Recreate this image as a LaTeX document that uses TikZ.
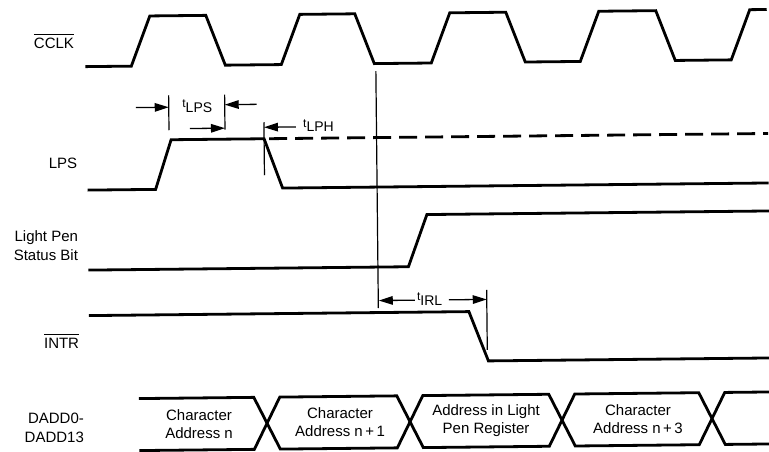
\documentclass[tikz,border=0pt]{standalone}
\usepackage{fontspec}
\setmainfont{Liberation Sans}
\usetikzlibrary{arrows.meta}
\newcommand\mybar[1]{\leavevmode\setbox0\hbox{#1}\rlap{\raisebox{13.5pt}{\rule{\wd0}{0.9pt}}}\box0}
\newcommand\tsub[1]{\raisebox{4.5pt}{\fontsize{12}{14}\selectfont t}#1}
\tikzset{
  sig/.style={line width=2.8pt, line join=miter},
  thinline/.style={line width=1.2pt},
  dim/.style={line width=1.3pt, -{Triangle[length=14pt,width=8.5pt]}},
  lbl/.style={font=\fontsize{15}{18.5}\selectfont, inner sep=0pt, align=right},
  bustext/.style={font=\fontsize{15}{18}\selectfont, inner sep=0pt, align=center},
  tlbl/.style={font=\fontsize{14}{16}\selectfont, inner sep=0pt}
}
\begin{document}
\begin{tikzpicture}[x=1pt,y=-1pt]
\useasboundingbox (0,0) rectangle (769,452);
\begin{scope}[rotate around={0.6:(384,226)}]
% signal labels
\node[lbl, anchor=base east] (lcclk) at (76,45) {\mybar{CCLK}};
\node[lbl, anchor=base east] (llps) at (78,165) {LPS};
\node[lbl, anchor=east] (llpsb) at (78,242.4) {Light Pen\\Status Bit};
\node[lbl, anchor=base east] (lintr) at (78,345) {\mybar{INTR}};
\node[lbl, anchor=east] (ldadd) at (82,424.7) {DADD0-\\DADD13};

% CCLK
\draw[sig] (87,63.5) -- (133,63.5) -- (152,13.5) -- (208,13.5) -- (227,63.5)
  -- (283,63.5) -- (302,13.5) -- (357,13.5) -- (376,63.5)
  -- (433,63.5) -- (452,13.5) -- (508,13.5) -- (527,63.5)
  -- (582,63.5) -- (601,13.5) -- (658,13.5) -- (677,63.5)
  -- (733,63.5) -- (752,13.5) -- (769,13.5);

% reference vertical line
\coordinate (vtop) at (377.5,71);
\coordinate (vbot) at (377.5,308);
\draw[thinline] (vtop) -- (vbot);

% LPS
\draw[sig] (88,187) -- (156,187) -- (172,137.5) -- (265,137.5) -- (283,187) -- (769,187);
\draw[sig, dash pattern=on 18pt off 8pt] (270,137.5) -- (769,137.5);

% tLPS
\coordinate (a1t) at (170,93); \coordinate (a1b) at (170,128);
\coordinate (a2t) at (226,93); \coordinate (a2b) at (226,128);
\draw[thinline] (a1t) -- (a1b);
\draw[thinline] (a2t) -- (a2b);
\coordinate (p1) at (137,105); \coordinate (q1) at (170,105);
\coordinate (p2) at (258,103); \coordinate (q2) at (226,103);
\coordinate (p3) at (191,126.5); \coordinate (q3) at (226,126.5);
\draw[dim] (p1) -- (q1);
\draw[dim] (p2) -- (q2);
\draw[dim] (p3) -- (q3);
\node[tlbl, anchor=base] (tlps) at (198.5,110.5) {\tsub{LPS}};

% tLPH
\coordinate (b1t) at (265,121); \coordinate (b1b) at (265,174);
\draw[thinline] (b1t) -- (b1b);
\coordinate (p4) at (297,126); \coordinate (q4) at (265,126);
\draw[dim] (p4) -- (q4);
\node[tlbl, anchor=base west] (tlph) at (304,131) {\tsub{LPH}};

% Light Pen Status Bit
\draw[sig] (88,267) -- (408,267) -- (427,215) -- (769,215);

% INTR
\draw[sig] (88,312.5) -- (468,312.5) -- (487,362) -- (769,362);

% tIRL
\coordinate (c1t) at (486,291); \coordinate (c1b) at (486,351);
\draw[thinline] (c1t) -- (c1b);
\coordinate (p5) at (414,300.5); \coordinate (q5) at (378,300.5);
\coordinate (p6) at (448,300.5); \coordinate (q6) at (486,300.5);
\node[tlbl, anchor=base west] (tirl) at (416,305.5) {\tsub{IRL}};
\draw[dim] (p5) -- (q5);
\draw[dim] (p6) -- (q6);

% DADD bus
\draw[sig] (137,396) -- (252,396) -- (278,448) -- (395,448) -- (421,396) -- (547,396)
  -- (573,448) -- (697,448) -- (723,396) -- (769,396);
\draw[sig] (137,448) -- (252,448) -- (278,396) -- (395,396) -- (421,448) -- (547,448)
  -- (573,396) -- (697,396) -- (723,448) -- (769,448);
\node[bustext] (s1) at (197,422) {Character\\Address n};
\node[bustext] (s2) at (338,422) {Character\\Address n\,+\,1};
\node[bustext] (s3) at (484,422) {Address in Light\\Pen Register};
\node[bustext] (s4) at (636,422) {Character\\Address n\,+\,3};
\end{scope}
\end{tikzpicture}
\end{document}
